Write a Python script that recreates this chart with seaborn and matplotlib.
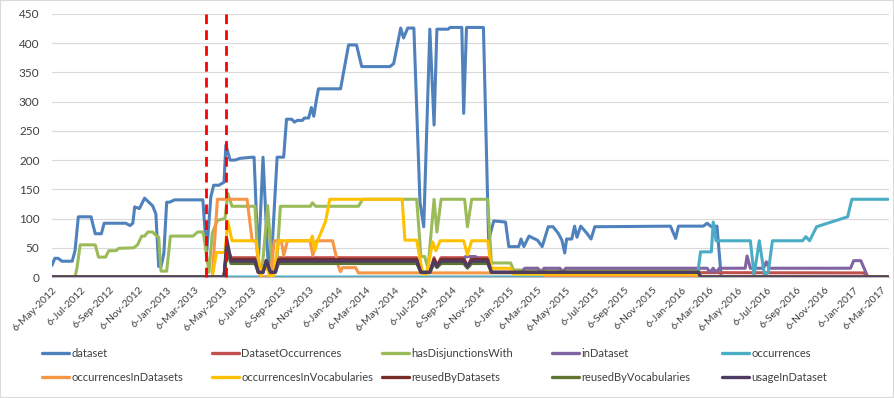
import matplotlib
matplotlib.use("Agg")
import matplotlib.pyplot as plt
from matplotlib.lines import Line2D
from matplotlib.patches import Rectangle
import pandas as pd
import seaborn as sns

# --- data ---
dataset_dates = [
    "2012-05-06", "2012-05-12", "2012-05-19", "2012-05-27", "2012-06-18", "2012-06-24",
    "2012-07-01", "2012-07-28", "2012-08-06", "2012-08-19", "2012-08-25", "2012-10-10",
    "2012-10-19", "2012-10-25", "2012-10-29", "2012-11-08", "2012-11-19", "2012-11-28",
    "2012-12-06", "2012-12-13", "2012-12-19", "2012-12-24", "2012-12-30", "2013-01-05",
    "2013-01-11", "2013-01-22", "2013-03-23", "2013-03-31", "2013-04-09", "2013-04-15",
    "2013-04-26", "2013-05-07", "2013-05-11", "2013-05-20", "2013-05-30", "2013-06-10",
    "2013-07-06", "2013-07-10", "2013-07-19", "2013-07-29", "2013-08-09", "2013-08-18",
    "2013-08-28", "2013-09-11", "2013-09-17", "2013-09-28", "2013-10-04", "2013-10-10",
    "2013-10-21", "2013-10-25", "2013-11-03", "2013-11-09", "2013-11-14", "2013-11-20",
    "2013-11-24", "2014-01-10", "2014-01-27", "2014-02-13", "2014-02-24", "2014-04-25",
    "2014-05-03", "2014-05-18", "2014-05-24", "2014-06-02", "2014-06-15", "2014-06-28",
    "2014-07-06", "2014-07-19", "2014-07-28", "2014-08-03", "2014-08-27", "2014-08-31",
    "2014-09-25", "2014-09-29", "2014-10-05", "2014-11-10", "2014-11-21", "2014-12-02",
    "2014-12-27", "2015-01-03", "2015-01-24", "2015-01-29", "2015-02-04", "2015-02-15",
    "2015-02-25", "2015-03-05", "2015-03-15", "2015-03-28", "2015-04-07", "2015-04-18",
    "2015-04-26", "2015-05-02", "2015-05-06", "2015-05-17", "2015-05-23", "2015-05-28",
    "2015-06-05", "2015-06-18", "2015-06-27", "2015-07-05", "2015-12-13", "2015-12-24",
    "2015-12-30", "2016-02-21", "2016-02-29", "2016-03-09", "2016-03-15", "2016-03-21",
    "2016-03-30", "2017-03-20",
]
dataset_values = [
    20, 32, 32, 27, 27, 45, 103, 103, 74, 74, 92, 92,
    88, 92, 120, 117, 135, 128, 122, 108, 18, 18, 40, 128,
    128, 132, 132, 41, 137, 157, 157, 162, 226, 200, 200, 203,
    205, 205, 24, 205, 20, 60, 205, 205, 270, 270, 265, 268,
    268, 272, 272, 290, 275, 305, 322, 322, 397, 397, 360, 360,
    365, 426, 409, 426, 426, 128, 86, 424, 260, 424, 424, 427,
    427, 280, 427, 427, 63, 96, 94, 52, 52, 65, 52, 70,
    66, 63, 52, 86, 86, 75, 63, 41, 65, 65, 87, 68,
    87, 75, 65, 86, 87, 66, 87, 87, 92, 86, 87, 87,
    0, 0,
]

dsocc_dates = [
    "2012-05-06", "2013-05-07", "2013-05-13", "2013-05-22", "2013-07-12", "2013-07-19",
    "2013-07-29", "2013-08-05", "2013-08-14", "2013-08-24", "2013-08-31", "2014-06-21",
    "2014-06-30", "2014-07-19", "2014-07-28", "2014-08-03", "2014-08-12", "2014-09-29",
    "2014-10-07", "2014-10-16", "2014-11-19", "2014-11-27", "2017-01-28", "2017-02-03",
    "2017-03-20",
]
dsocc_values = [0, 0, 55, 33, 33, 8, 8, 28, 8, 8, 33, 33, 8, 8, 33, 20, 33, 33, 18, 33, 33, 8, 7, 0, 0]

disj_dates = [
    "2012-05-06", "2012-06-24", "2012-06-28", "2012-07-05", "2012-08-06", "2012-08-13",
    "2012-08-28", "2012-09-04", "2012-09-19", "2012-09-25", "2012-10-27", "2012-11-04",
    "2012-11-13", "2012-11-19", "2012-11-26", "2012-12-06", "2012-12-15", "2012-12-19",
    "2012-12-24", "2013-01-05", "2013-01-13", "2013-03-02", "2013-03-12", "2013-03-23",
    "2013-03-25", "2013-04-05", "2013-04-12", "2013-04-23", "2013-05-09", "2013-05-15",
    "2013-05-24", "2013-07-12", "2013-07-19", "2013-07-27", "2013-08-08", "2013-08-18",
    "2013-08-26", "2013-09-04", "2013-11-07", "2013-11-11", "2013-11-18", "2014-02-17",
    "2014-02-26", "2014-06-21", "2014-06-30", "2014-07-08", "2014-07-15", "2014-07-28",
    "2014-08-03", "2014-08-12", "2014-10-01", "2014-10-07", "2014-10-16", "2014-11-19",
    "2014-11-27", "2015-01-07", "2015-01-13", "2016-02-11", "2016-02-15", "2017-03-20",
]
disj_values = [
    0, 0, 15, 55, 55, 34, 34, 45, 45, 49, 50, 55,
    70, 70, 77, 77, 70, 68, 10, 10, 70, 70, 77, 77,
    70, 8, 75, 97, 100, 143, 121, 121, 12, 12, 122, 10,
    10, 121, 121, 127, 121, 121, 133, 133, 35, 35, 15, 133,
    77, 133, 133, 86, 133, 133, 24, 24, 12, 12, 0, 0,
]

indataset_dates = [
    "2012-05-06", "2013-05-07", "2013-05-13", "2013-05-22", "2013-07-12", "2013-07-19",
    "2013-07-29", "2013-08-05", "2013-08-14", "2013-08-24", "2013-08-31", "2014-06-21",
    "2014-06-30", "2014-07-19", "2014-07-28", "2014-08-03", "2014-08-12", "2014-09-29",
    "2014-10-03", "2014-10-24", "2014-11-04", "2014-11-19", "2014-11-27", "2015-01-31",
    "2015-02-06", "2015-03-06", "2015-03-13", "2015-03-19", "2015-04-22", "2015-04-28",
    "2015-05-04", "2016-02-29", "2016-03-06", "2016-03-13", "2016-03-19", "2016-03-26",
    "2016-05-20", "2016-05-24", "2016-05-31", "2016-06-28", "2016-07-04", "2016-07-10",
    "2016-12-30", "2017-01-06", "2017-01-21", "2017-02-05", "2017-03-20",
]
indataset_values = [
    0, 0, 40, 28, 28, 8, 8, 28, 8, 8, 28, 28,
    8, 8, 28, 18, 28, 28, 35, 35, 28, 28, 8, 8,
    15, 15, 6, 15, 15, 6, 15, 15, 8, 15, 8, 15,
    15, 36, 15, 15, 26, 15, 15, 28, 28, 0, 0,
]

occ_dates = [
    "2012-05-06", "2016-02-08", "2016-02-15", "2016-03-09", "2016-03-13", "2016-03-19",
    "2016-05-31", "2016-06-08", "2016-06-19", "2016-06-30", "2016-07-08", "2016-07-17",
    "2016-09-19", "2016-09-26", "2016-10-04", "2016-10-19", "2016-12-24", "2017-01-02",
    "2017-03-20",
]
occ_values = [0, 0, 43, 43, 94, 62, 62, 3, 62, 3, 8, 62, 62, 69, 62, 86, 103, 133, 133]

occds_dates = [
    "2012-05-06", "2013-04-12", "2013-04-23", "2013-06-25", "2013-07-06", "2013-07-14",
    "2013-07-23", "2013-08-14", "2013-08-22", "2013-09-06", "2013-09-11", "2013-09-19",
    "2013-11-06", "2013-11-12", "2013-11-20", "2013-12-24", "2014-01-06", "2014-01-10",
    "2014-01-14", "2014-02-11", "2014-02-17", "2015-03-15", "2015-03-21", "2016-02-11",
    "2016-02-15", "2017-03-20",
]
occds_values = [0, 0, 133, 133, 62, 62, 0, 0, 62, 62, 37, 62, 62, 37, 62, 62, 17, 9, 16, 16, 7, 7, 1, 1, 0, 0]

occvoc_dates = [
    "2012-05-06", "2013-04-12", "2013-04-21", "2013-05-09", "2013-05-15", "2013-05-24",
    "2013-07-14", "2013-07-25", "2013-08-03", "2013-08-12", "2013-08-20", "2013-08-31",
    "2013-11-07", "2013-11-11", "2013-11-16", "2013-11-22", "2013-12-09", "2013-12-18",
    "2014-05-21", "2014-05-27", "2014-06-21", "2014-07-04", "2014-07-12", "2014-07-25",
    "2014-08-01", "2014-08-10", "2014-09-29", "2014-10-07", "2014-10-16", "2014-11-19",
    "2014-11-27", "2015-01-07", "2015-01-13", "2016-02-11", "2016-02-15", "2017-03-20",
]
occvoc_values = [
    0, 0, 42, 42, 95, 62, 62, 2, 25, 2, 2, 62,
    62, 70, 45, 62, 95, 133, 133, 63, 63, 5, 5, 60,
    45, 62, 62, 38, 62, 62, 15, 15, 5, 5, 0, 0,
]

# the three dark series share the shape of DatasetOccurrences
group_dates = [
    "2012-05-06", "2013-05-07", "2013-05-13", "2013-05-22", "2013-07-12", "2013-07-19",
    "2013-07-29", "2013-08-05", "2013-08-14", "2013-08-24", "2013-08-31", "2014-06-21",
    "2014-06-30", "2014-07-19", "2014-07-28", "2014-08-03", "2014-08-12", "2014-09-29",
    "2014-10-07", "2014-10-16", "2014-11-19", "2014-11-27", "2016-02-11", "2016-02-15",
    "2017-03-20",
]
reuseds_values = [0, 0, 50, 30, 30, 8, 8, 28, 8, 8, 30, 30, 8, 8, 30, 19, 30, 30, 18, 30, 30, 8, 8, 0, 0]
reusedv_values = [0, 0, 45, 23, 23, 8, 8, 24, 8, 8, 23, 23, 8, 8, 23, 16, 23, 23, 15, 23, 23, 8, 8, 0, 0]
usage_values = [0, 0, 65, 27, 27, 8, 8, 28, 8, 8, 27, 27, 8, 8, 27, 18, 27, 27, 18, 27, 27, 8, 8, 0, 0]

series_names = [
    "dataset", "DatasetOccurrences", "hasDisjunctionsWith", "inDataset", "occurrences",
    "occurrencesInDatasets", "occurrencesInVocabularies", "reusedByDatasets",
    "reusedByVocabularies", "usageInDataset",
]
series_colors = [
    "#4F81BD", "#C0504D", "#9BBB59", "#8064A2", "#4BACC6",
    "#F79646", "#FFC000", "#772C2A", "#5F7530", "#4D3B62",
]
marker_dates = ["2013-03-29", "2013-05-11"]

series_data = [
    (dataset_dates, dataset_values),
    (dsocc_dates, dsocc_values),
    (disj_dates, disj_values),
    (indataset_dates, indataset_values),
    (occ_dates, occ_values),
    (occds_dates, occds_values),
    (occvoc_dates, occvoc_values),
    (group_dates, reuseds_values),
    (group_dates, reusedv_values),
    (group_dates, usage_values),
]

frames = []
for name, (d, v) in zip(series_names, series_data):
    frames.append(pd.DataFrame({"date": pd.to_datetime(d), "value": v, "series": name}))
df = pd.concat(frames, ignore_index=True)

# --- plot ---
sns.set_style("white")
plt.rcParams["font.family"] = ["Lato", "DejaVu Sans"]

W, H = 894, 398
fig = plt.figure(figsize=(W / 100, H / 100), dpi=100)
ax = fig.add_axes([52 / W, 1 - 277 / H, (889 - 52) / W, (277 - 14) / H])

palette = dict(zip(series_names, series_colors))
sns.lineplot(
    data=df, x="date", y="value", hue="series", hue_order=series_names,
    palette=palette, estimator=None, linewidth=2.2, legend=False, ax=ax,
)

for d in marker_dates:
    t = pd.Timestamp(d)
    ax.plot([t, t], [0, 457], color="#FF0000", lw=2, ls=(0, (3.5, 2.2)), clip_on=False, zorder=5)

ax.set_ylim(0, 450)
ax.set_yticks(range(0, 451, 50))
ax.set_xlim(pd.Timestamp("2012-05-06"), pd.Timestamp("2017-03-22"))

ticks = pd.date_range("2012-05-06", "2017-03-06", freq=pd.DateOffset(months=2))
ax.set_xticks(ticks)
ax.set_xticklabels(
    [f"{t.day}-{t.strftime('%b-%Y')}" for t in ticks],
    rotation=45, ha="right", rotation_mode="anchor", fontsize=7.5, color="#404040",
)
ax.tick_params(axis="x", length=4, width=0.8, color="#BFBFBF", pad=2, direction="out")
ax.tick_params(axis="y", length=0, pad=9, labelsize=8.5, labelcolor="#404040")
ax.set_xlabel("")
ax.set_ylabel("")

ax.grid(axis="y", color="#D9D9D9", lw=0.8)
ax.grid(axis="x", visible=False)
for s in ["left", "right", "top"]:
    ax.spines[s].set_visible(False)
ax.spines["bottom"].set_color("#BFBFBF")
ax.spines["bottom"].set_linewidth(0.8)

# legend: 5 columns at fixed spacing, 2 rows, filled row by row
for col in range(5):
    idx = [col, col + 5]
    fig.legend(
        [Line2D([0], [0], color=series_colors[i], lw=2.4) for i in idx],
        [series_names[i] for i in idx],
        loc="upper left", bbox_to_anchor=((42 + 170 * col) / W, 1 - 348 / H),
        frameon=False, fontsize=8, handlelength=2.4, handletextpad=0.25,
        labelspacing=1.2, borderpad=0, borderaxespad=0, labelcolor="#404040",
    )

fig.patches.append(Rectangle((0, 0), 1, 1, transform=fig.transFigure, fill=False,
                             edgecolor="#D9D9D9", lw=1.5))

fig.savefig("out.png", dpi=100)
